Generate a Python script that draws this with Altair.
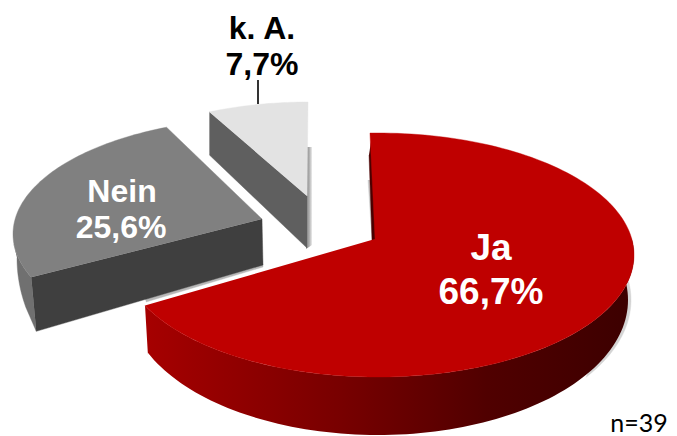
import math
import altair as alt
import pandas as pd

# ---- values ----
labels = ["Ja", "Nein", "k. A."]
shares = [66.7, 25.6, 7.7]
value_text = ["66,7%", "25,6%", "7,7%"]
note = "n=39"

# ---- layout of the pseudo-3D pie, in reference pixels ----
M = 8
XMAX, YMAX = 669, 436


def rim(e, t0, t1, n=80, dx=0, dy=0):
    """Points on an ellipse e=(cx, cy, a, b), angles in degrees, y pointing down."""
    cx, cy, a, b = e
    out = []
    for i in range(n + 1):
        t = math.radians(t0 + (t1 - t0) * i / n)
        out.append((cx + dx + a * math.cos(t), cy + dy - b * math.sin(t)))
    return out


def poly(points, fill, **kw):
    df = pd.DataFrame({"x": [p[0] for p in points], "y": [p[1] for p in points],
                       "i": list(range(len(points)))})
    return alt.Chart(df).mark_line(fill=fill, stroke=fill if isinstance(fill, str) else None,
                                   strokeWidth=0.4 if isinstance(fill, str) else 0,
                                   **kw).encode(
        x=alt.X("x:Q", scale=X, axis=None),
        y=alt.Y("y:Q", scale=Y, axis=None),
        order="i:Q",
    )


def hgrad(*stops):
    return alt.LinearGradient(
        gradient="linear", x1=0, x2=1, y1=0, y2=0,
        stops=[alt.GradientStop(offset=o, color=c) for o, c in stops],
    )


X = alt.Scale(domain=[M, XMAX], range=[0, XMAX - M], nice=False, zero=False)
Y = alt.Scale(domain=[M, YMAX], range=[0, YMAX - M], nice=False, zero=False)

layers = []

# k. A. wedge
e_k = (308, 189, 212, 87)
sw_k = shares[2] * 3.6
t_k0 = 90
k_rim = rim(e_k, t_k0, t_k0 + sw_k, 30)
k_apex = (307, 196)
layers.append(poly([(306, 147), (312, 147), (312, 245), (306, 249)],
                   hgrad((0, "#909090"), (0.5, "#a8a8a8"), (1, "#ececec"))))
layers.append(poly([k_rim[-1], k_apex, (k_apex[0], k_apex[1] + 52),
                    (k_rim[-1][0], k_rim[-1][1] + 43)], "#5f5f5f"))
layers.append(poly([k_apex] + k_rim, "#e3e3e3"))

# Nein wedge
e_n = (265, 234, 252, 116)
e_n_low = (275, 258, 258, 190)
sw_n = shares[1] * 3.6 * 0.965
t_n0 = 113
n_rim = rim(e_n, t_n0, t_n0 + sw_n)
n_apex = (262, 219)
n_dep = (5, 54)
n_corner = (n_rim[-1][0] + n_dep[0], n_rim[-1][1] + n_dep[1])
layers.append(poly([(145, 298), (263, 264), (263, 267), (146, 302)], "#b8b8b8"))
layers.append(poly(rim(e_n, 185, t_n0 + sw_n, 30)
                   + [n_corner]
                   + rim(e_n_low, 195, 180, 20), "#707070"))
layers.append(poly([n_rim[-1], n_apex, (n_apex[0] + 1, n_apex[1] + 46), n_corner], "#3f3f3f"))
layers.append(poly([n_apex] + n_rim, "#808080"))

# Ja wedge
e_j = (378, 255, 256, 122)
e_j_low = (378, 300, 250, 135)
sw_j = shares[0] * 3.6 * 1.03
t_j0 = 91.8
j_end = t_j0 - sw_j
j_rim = rim(e_j, t_j0, j_end, 160)
j_apex = (375, 239)
grad = hgrad((0, "#a60000"), (0.4, "#780000"), (0.7, "#500000"), (1, "#3c0000"))
layers.append(poly([(368, 180), (372, 240), (374, 240), (372, 180)], "#c8c8c8"))
layers.append(poly([(369, 155), (372, 240), (377, 240), (372, 135)], "#4a0000"))
layers.append(poly(rim(e_j_low, 8, -35, 40, dx=3), "#d4d4d4"))
layers.append(poly(rim(e_j, 8, j_end, 100)
                   + [(148, 356)]
                   + rim(e_j_low, -157, 10, 100), grad))
layers.append(poly([j_apex] + j_rim, "#bf0000"))

# leader line of k. A.
leader = pd.DataFrame({"x": [258], "y": [80], "y2": [104]})
layers.append(alt.Chart(leader).mark_rule(color="#000000", strokeWidth=1.6).encode(
    x=alt.X("x:Q", scale=X, axis=None),
    y=alt.Y("y:Q", scale=Y, axis=None),
    y2="y2:Q",
))


# texts
def label(text, x, y, size, color, bold=True, font="Liberation Sans"):
    df = pd.DataFrame({"x": [x], "y": [y], "t": [text]})
    return alt.Chart(df).mark_text(
        fontSize=size, color=color, font=font,
        fontWeight="bold" if bold else "normal",
        align="center", baseline="middle",
    ).encode(
        x=alt.X("x:Q", scale=X, axis=None),
        y=alt.Y("y:Q", scale=Y, axis=None),
        text="t:N",
    )


layers += [
    label(labels[0], 491, 249, 37, "#ffffff"),
    label(value_text[0], 491, 293, 37, "#ffffff"),
    label(labels[1], 122, 192, 32, "#ffffff"),
    label(value_text[1], 121, 228, 32, "#ffffff"),
    label(labels[2], 262, 29, 32, "#000000"),
    label(value_text[2], 262, 65, 32, "#000000"),
    label(note, 639, 424, 25, "#000000", bold=False, font="Lato"),
]

chart = alt.layer(*layers).properties(
    width=XMAX - M, height=YMAX - M, padding=0, background="#ffffff",
    autosize=alt.AutoSizeParams(type="none"),
).configure_view(stroke=None)

chart.save("out.html", embed_options={"renderer": "svg", "actions": False})
